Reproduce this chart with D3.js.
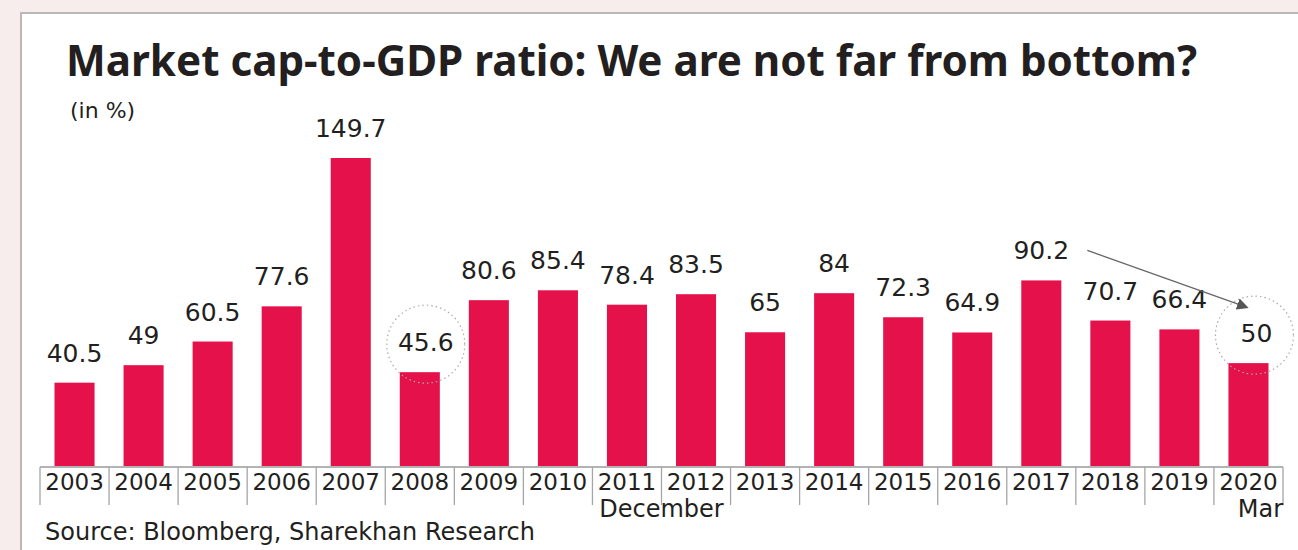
<!DOCTYPE html>
<html>
<head>
<meta charset="utf-8">
<script src="https://cdn.jsdelivr.net/npm/d3@7"></script>
<style>
  body { margin: 0; background: #f8eded; }
  text { font-family: "DejaVu Sans", sans-serif; fill: #231f20; }
</style>
</head>
<body>
<div id="vis"></div>
<script>
// values
let years = ['2003','2004','2005','2006','2007','2008','2009','2010','2011','2012','2013','2014','2015','2016','2017','2018','2019','2020']
let ratios = [40.5, 49, 60.5, 77.6, 149.7, 45.6, 80.6, 85.4, 78.4, 83.5, 65, 84, 72.3, 64.9, 90.2, 70.7, 66.4, 50]
let valueLabels = ['40.5','49','60.5','77.6','149.7','45.6','80.6','85.4','78.4','83.5','65','84','72.3','64.9','90.2','70.7','66.4','50']
let circled = ['2008', '2020']

let data = years.map((y, i) => ({year: y, value: ratios[i], label: valueLabels[i]}))

let width = 1298, height = 550
let base = 466

let svg = d3.select('#vis').append('svg')
  .attr('width', width).attr('height', height)

// white panel
svg.append('rect')
  .attr('x', 21).attr('y', 13)
  .attr('width', width + 10).attr('height', height)
  .attr('fill', '#fff')
  .attr('stroke', '#bdb6b6').attr('stroke-width', 2)

svg.append('text')
  .attr('x', 66).attr('y', 76)
  .style('font-family', '"Noto Sans", sans-serif')
  .style('font-size', '43px').style('font-weight', 'bold')
  .attr('textLength', 1131)
  .attr('lengthAdjust', 'spacingAndGlyphs')
  .text('Market cap-to-GDP ratio: We are not far from bottom?')

svg.append('text')
  .attr('x', 70).attr('y', 118)
  .style('font-size', '22px')
  .text('(in %)')

let x = d3.scaleBand()
  .domain(years)
  .range([40, 1283])
  .paddingInner(0.42)
  .paddingOuter(0.21)

let y = d3.scaleLinear()
  .domain([0, 149.7])
  .range([base, 158])

svg.selectAll('.bar')
  .data(data)
  .join('rect')
  .attr('class', 'bar')
  .attr('x', d => x(d.year))
  .attr('y', d => y(d.value))
  .attr('width', x.bandwidth())
  .attr('height', d => base - y(d.value))
  .attr('fill', '#e5114a')

svg.selectAll('.val')
  .data(data)
  .join('text')
  .attr('class', 'val')
  .attr('x', d => x(d.year) + x.bandwidth() / 2 + (d.year == '2008' ? 6 : d.year == '2020' ? 8 : 0))
  .attr('y', d => y(d.value) - 21)
  .attr('text-anchor', 'middle')
  .style('font-size', '25px')
  .text(d => d.label)

// dotted circles round the two low points
svg.selectAll('.ring')
  .data(data.filter(d => circled.includes(d.year)))
  .join('circle')
  .attr('cx', d => x(d.year) + x.bandwidth() / 2 + 6)
  .attr('cy', d => y(d.value) - 28)
  .attr('r', 39)
  .attr('fill', 'none')
  .attr('stroke', '#aaa')
  .attr('stroke-width', 1.2)
  .attr('stroke-dasharray', '1.5 3')

// arrow from 2017 peak down to 2020
svg.append('defs').append('marker')
  .attr('id', 'arr')
  .attr('viewBox', '0 0 10 10')
  .attr('refX', 8).attr('refY', 5)
  .attr('markerWidth', 9).attr('markerHeight', 9)
  .attr('orient', 'auto')
  .append('path').attr('d', 'M0,0 L10,5 L0,10 z').attr('fill', '#555')

svg.append('line')
  .attr('x1', x('2017') + x.bandwidth() + 26)
  .attr('y1', y(90.2) - 30)
  .attr('x2', x('2020') + x.bandwidth() / 2 - 2)
  .attr('y2', y(50) - 56)
  .attr('stroke', '#666').attr('stroke-width', 1.3)
  .attr('marker-end', 'url(#arr)')

// axis: baseline, separators and year labels
let step = x.step()
let edges = d3.range(years.length + 1).map(i => 40 + i * step)

svg.append('line')
  .attr('x1', 40).attr('x2', 1283)
  .attr('y1', base + 1).attr('y2', base + 1)
  .attr('stroke', '#9a9a9a').attr('stroke-width', 1.5)

svg.selectAll('.sep')
  .data(edges)
  .join('line')
  .attr('x1', d => d).attr('x2', d => d)
  .attr('y1', base + 1).attr('y2', base + 39)
  .attr('stroke', '#a5a5a5').attr('stroke-width', 1.3)

svg.selectAll('.yr')
  .data(years)
  .join('text')
  .attr('x', d => x(d) + x.bandwidth() / 2)
  .attr('y', base + 24)
  .attr('text-anchor', 'middle')
  .style('font-size', '23px')
  .text(d => d)

svg.append('text')
  .attr('x', edges[9]).attr('y', base + 51)
  .attr('text-anchor', 'middle')
  .style('font-size', '24px')
  .text('December')

svg.append('text')
  .attr('x', 1283).attr('y', base + 51)
  .attr('text-anchor', 'end')
  .style('font-size', '24px')
  .text('Mar')

svg.append('text')
  .attr('x', 45).attr('y', 540)
  .style('font-size', '24px')
  .text('Source: Bloomberg, Sharekhan Research')
</script>
</body>
</html>
